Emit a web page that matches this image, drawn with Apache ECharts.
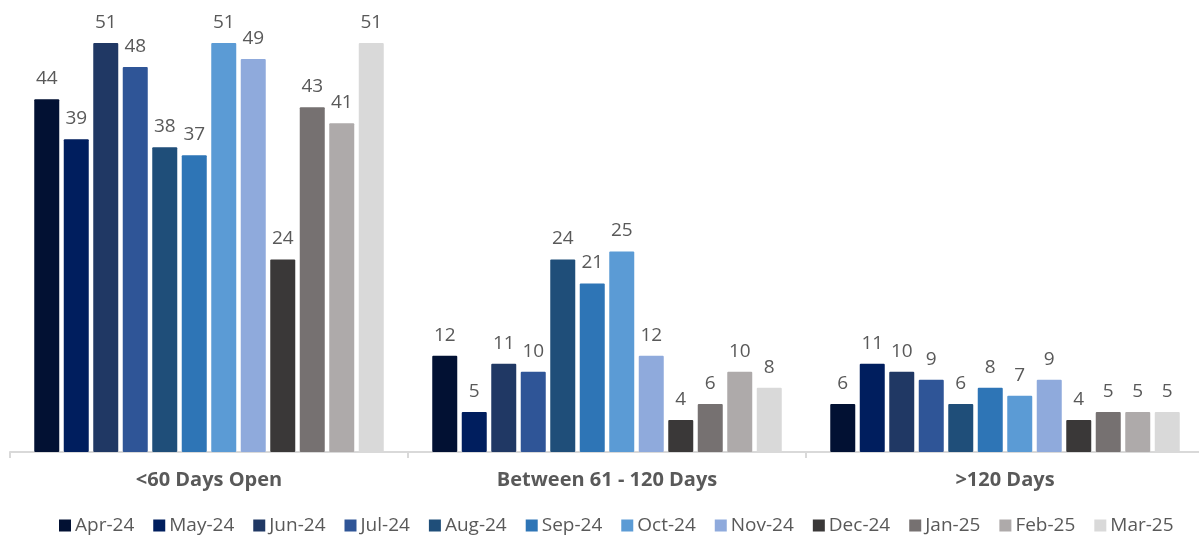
<!DOCTYPE html>
<html>
<head>
<meta charset="utf-8">
<script src="https://cdn.jsdelivr.net/npm/echarts@6/dist/echarts.min.js"></script>
<style>
  html, body { margin: 0; padding: 0; background: #ffffff; overflow: hidden; }
  /* canvas runs a few pixels past the right edge so the last bucket keeps full width */
  #chart { width: 1205px; height: 540px; }
</style>
</head>
<body>
<div id="chart"></div>
<script>
// Aging buckets on the x axis, one bar per month in each bucket
const categories = ['<60 Days Open', 'Between 61 - 120 Days', '>120 Days'];
const months = ['Apr-24', 'May-24', 'Jun-24', 'Jul-24', 'Aug-24', 'Sep-24',
                'Oct-24', 'Nov-24', 'Dec-24', 'Jan-25', 'Feb-25', 'Mar-25'];

// Counts per month, in bucket order
const apr24 = [44, 12, 6];
const may24 = [39, 5, 11];
const jun24 = [51, 11, 10];
const jul24 = [48, 10, 9];
const aug24 = [38, 24, 6];
const sep24 = [37, 21, 8];
const oct24 = [51, 25, 7];
const nov24 = [49, 12, 9];
const dec24 = [24, 4, 4];
const jan25 = [43, 6, 5];
const feb25 = [41, 10, 5];
const mar25 = [51, 8, 5];

const monthValues = [apr24, may24, jun24, jul24, aug24, sep24,
                     oct24, nov24, dec24, jan25, feb25, mar25];

const palette = ['#021133', '#001E5E', '#203864', '#2F5597', '#1F4E79', '#2E75B6',
                 '#5B9BD5', '#8FAADC', '#3A3838', '#767171', '#AEAAAA', '#D9D9D9'];

const textColor = '#595959';
const fontFamily = '"Open Sans", "Noto Sans", sans-serif';

const series = months.map((m, i) => ({
  name: m,
  type: 'bar',
  data: monthValues[i],
  barWidth: 25,
  barGap: '18%',
  itemStyle: { color: palette[i], borderRadius: 1 },
  label: {
    show: true,
    position: 'top',
    distance: 11,
    color: textColor,
    fontSize: 19,
    fontFamily: fontFamily
  }
}));

const chart = echarts.init(document.getElementById('chart'));
chart.setOption({
  animation: false,
  color: palette,
  grid: { left: 10, width: 1194, top: 43, bottom: 88, containLabel: false },
  legend: {
    bottom: 0,
    left: 54,
    icon: 'rect',
    itemWidth: 12,
    itemHeight: 12,
    itemGap: 19,
    textStyle: { color: textColor, fontSize: 19, fontFamily: fontFamily, padding: [0, 0, 0, -1] },
    data: months
  },
  xAxis: {
    type: 'category',
    data: categories,
    axisLine: { lineStyle: { color: '#D9D9D9', width: 2 } },
    axisTick: { show: true, length: 6, lineStyle: { color: '#D9D9D9', width: 2 } },
    axisLabel: {
      color: textColor,
      fontSize: 20,
      fontWeight: 'bold',
      fontFamily: fontFamily,
      margin: 18
    }
  },
  yAxis: {
    type: 'value',
    min: 0,
    max: 51,
    show: false,
    splitLine: { show: false }
  },
  series: series
});
</script>
</body>
</html>
